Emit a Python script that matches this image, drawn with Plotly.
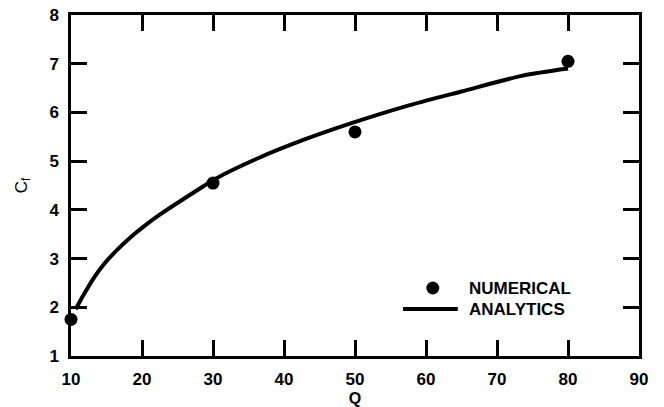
import plotly.graph_objects as go

# Numerical results
q_num = [10, 30, 50, 80]
cf_num = [1.75, 4.55, 5.6, 7.05]

# Analytical curve
q_ana = [10.66, 11.8, 13.2, 14.6, 16.5, 18.4, 20, 22.5, 27, 30.5, 36.5, 43, 49.5, 57, 65, 73.5, 80]
cf_ana = [1.96, 2.26, 2.6, 2.88, 3.18, 3.44, 3.63, 3.9, 4.33, 4.65, 5.07, 5.45, 5.78, 6.12, 6.43, 6.75, 6.9]

x_ticks = [10, 20, 30, 40, 50, 60, 70, 80, 90]
y_ticks = [1, 2, 3, 4, 5, 6, 7, 8]

FONT = "Liberation Sans"

fig = go.Figure()
fig.add_trace(go.Scatter(x=q_ana, y=cf_ana, mode="lines",
                         line=dict(color="black", width=4, shape="spline", smoothing=0.8),
                         name="ANALYTICS", showlegend=False, cliponaxis=False))
fig.add_trace(go.Scatter(x=q_num, y=cf_num, mode="markers", marker=dict(color="black", size=13),
                         name="NUMERICAL", showlegend=False, cliponaxis=False))

axis_common = dict(showline=True, linecolor="black", linewidth=2.5, mirror="ticks",
                   ticks="inside", ticklen=16, tickwidth=2.5, tickcolor="black",
                   showgrid=False, zeroline=False, automargin=False, ticklabelstandoff=6,
                   tickfont=dict(family=FONT, size=17, color="black", weight="bold"))

fig.update_xaxes(range=[10, 90], tickvals=x_ticks, ticktext=[str(v) for v in x_ticks],
                 title=dict(text="Q", font=dict(family=FONT, size=16, color="black", weight="bold"), standoff=12),
                 **axis_common)
fig.update_yaxes(range=[1, 8], tickvals=y_ticks, ticktext=[str(v) for v in y_ticks],
                 title=dict(text="C<sub>f</sub>", font=dict(family=FONT, size=17, color="#000000"), standoff=18),
                 **axis_common)

# Legend drawn manually
fig.add_shape(type="circle", xref="paper", yref="paper", x0=0.637 - 0.0114, x1=0.637 + 0.0114,
              y0=0.1994 - 0.019, y1=0.1994 + 0.019, fillcolor="black", line=dict(color="black", width=0))
fig.add_shape(type="line", xref="paper", yref="paper", x0=0.5845, x1=0.681, y0=0.1378, y1=0.1378,
              line=dict(color="black", width=4))
for txt, yy in [("NUMERICAL", 0.1994), ("ANALYTICS", 0.1378)]:
    fig.add_annotation(text=txt, xref="paper", yref="paper", x=0.697, y=yy, xanchor="left", yanchor="middle",
                       showarrow=False, font=dict(family=FONT, size=17, color="black", weight="bold"))

fig.update_layout(width=664, height=407, margin=dict(l=71, r=25, t=15, b=51),
                  plot_bgcolor="white", paper_bgcolor="white", showlegend=False)

fig.write_html("out.html")
